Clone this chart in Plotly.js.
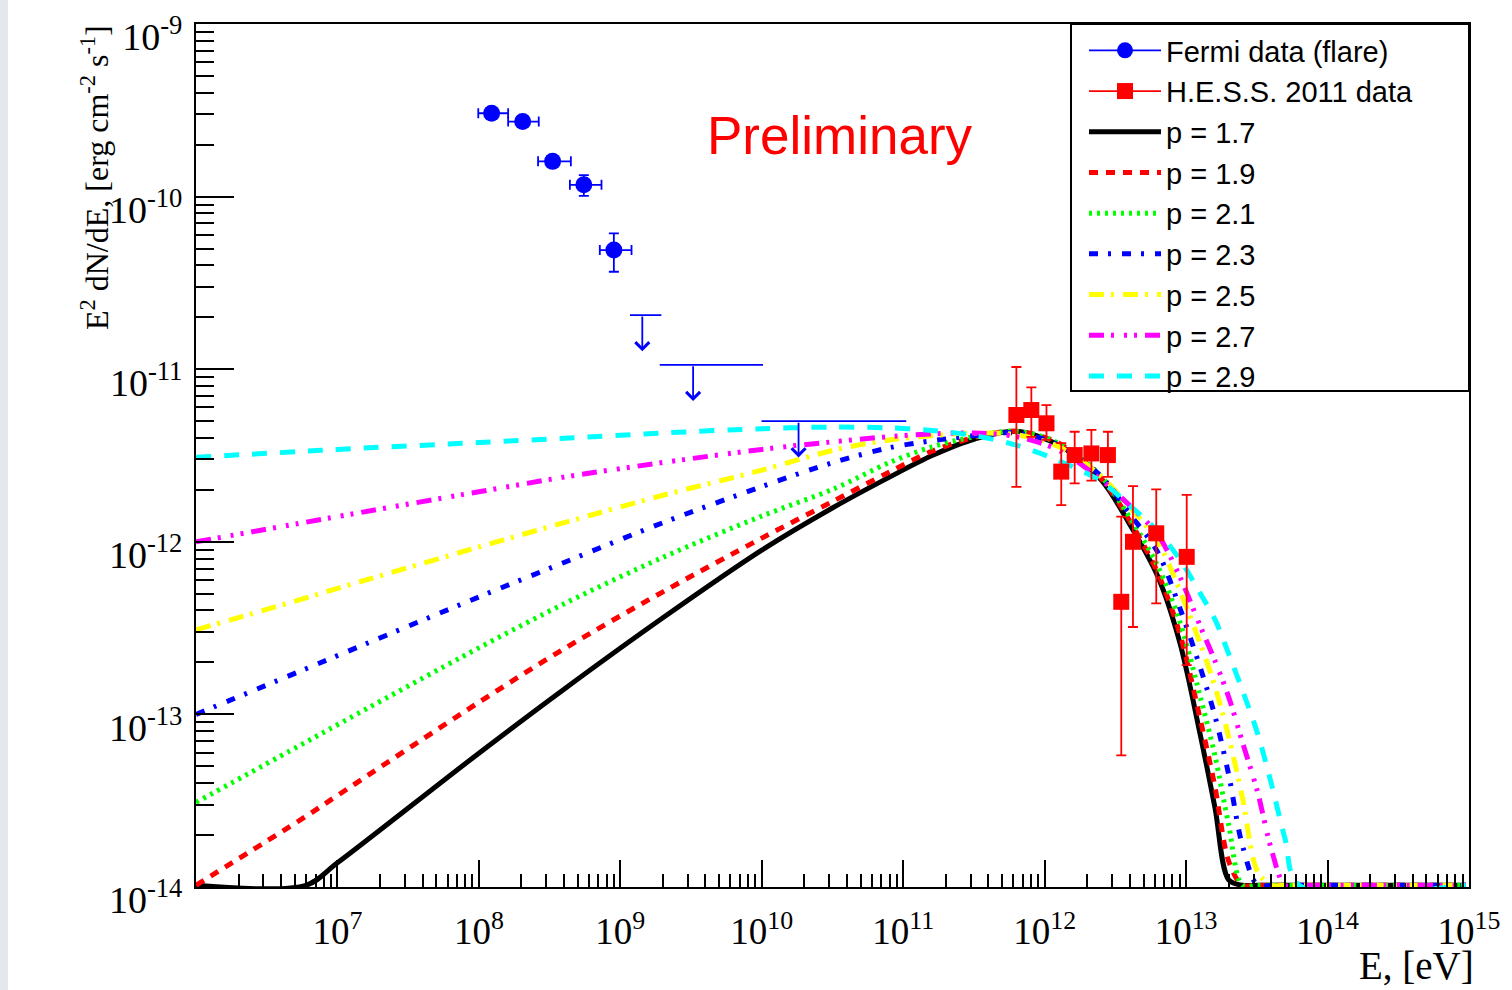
<!DOCTYPE html>
<html>
<head>
<meta charset="utf-8">
<script src="https://cdn.plot.ly/plotly-3.0.1.min.js"></script>
<style>
html,body{margin:0;padding:0;background:#fff;}
#chart{width:1512px;height:990px;}
</style>
</head>
<body>
<div id="chart"></div>
<script>
// ---------------- DATA ----------------
// Model curves: photon energy E [eV] and E^2 dN/dE [erg cm^-2 s^-1]
const modelE = [1e6, 6e6, 1e7, 1e8, 4e8, 2e9, 1e10, 3.2e10, 8e10, 1.6e11, 3.2e11, 6.3e11, 1.26e12,
  2.5e12, 4e12, 6.3e12, 9e12, 1.26e13, 1.6e13, 2e13, 2.5e13, 3.2e13, 4e13, 5e13, 6.3e13, 9.5e14];

const curveP17 = [3.16e-15, 1.0e-14, 1.38e-14, 5.96e-14, 1.40e-13, 3.63e-13, 8.95e-13, 1.58e-12, 2.37e-12, 3.16e-12, 3.94e-12, 4.37e-12, 3.63e-12,
  2.29e-12, 1.26e-12, 6.31e-13, 2.63e-13, 7.59e-14, 2.88e-14, 1.10e-14, 1e-15, 1e-15, 1e-15, 1e-15, 1e-15, 1e-15];
const curveP19 = [9.55e-15, 2.57e-14, 3.39e-14, 1.175e-13, 2.40e-13, 5.13e-13, 1.05e-12, 1.72e-12, 2.54e-12, 3.35e-12, 4.03e-12, 4.37e-12, 3.72e-12,
  2.34e-12, 1.32e-12, 6.61e-13, 2.95e-13, 9.33e-14, 3.80e-14, 1.41e-14, 5.0e-15, 1e-15, 1e-15, 1e-15, 1e-15, 1e-15];
const curveP21 = [3.09e-14, 6.92e-14, 8.71e-14, 2.43e-13, 4.37e-13, 8.13e-13, 1.41e-12, 2.02e-12, 2.88e-12, 3.55e-12, 4.07e-12, 4.37e-12, 3.72e-12,
  2.40e-12, 1.38e-12, 7.24e-13, 3.47e-13, 1.26e-13, 5.75e-14, 2.29e-14, 8.9e-15, 1e-15, 1e-15, 1e-15, 1e-15, 1e-15];
const curveP23 = [1.0e-13, 1.84e-13, 2.19e-13, 4.79e-13, 7.59e-13, 1.29e-12, 2.09e-12, 2.88e-12, 3.51e-12, 3.85e-12, 4.12e-12, 4.27e-12, 3.63e-12,
  2.40e-12, 1.45e-12, 8.71e-13, 4.17e-13, 1.86e-13, 9.77e-14, 4.47e-14, 1.74e-14, 6.3e-15, 1e-15, 1e-15, 1e-15, 1e-15];
const curveP25 = [3.09e-13, 4.73e-13, 5.37e-13, 9.33e-13, 1.29e-12, 1.86e-12, 2.60e-12, 3.39e-12, 3.89e-12, 4.12e-12, 4.27e-12, 4.17e-12, 3.55e-12,
  2.40e-12, 1.585e-12, 1.0e-12, 5.25e-13, 2.57e-13, 1.45e-13, 7.41e-14, 3.31e-14, 1.23e-14, 4.0e-15, 1e-15, 1e-15, 1e-15];
const curveP27 = [1.0e-12, 1.30e-12, 1.40e-12, 1.95e-12, 2.37e-12, 2.88e-12, 3.43e-12, 3.80e-12, 4.07e-12, 4.22e-12, 4.27e-12, 4.07e-12, 3.39e-12,
  2.29e-12, 1.62e-12, 1.10e-12, 6.31e-13, 3.24e-13, 2.04e-13, 1.26e-13, 6.92e-14, 3.55e-14, 1.66e-14, 5.0e-15, 1e-15, 1e-15];
const curveP29 = [3.09e-12, 3.35e-12, 3.43e-12, 3.76e-12, 3.98e-12, 4.27e-12, 4.52e-12, 4.62e-12, 4.57e-12, 4.42e-12, 4.12e-12, 3.63e-12, 2.95e-12,
  2.24e-12, 1.62e-12, 1.15e-12, 7.94e-13, 5.01e-13, 3.55e-13, 2.24e-13, 1.38e-13, 7.76e-14, 3.98e-14, 1.91e-14, 8.9e-15, 1e-15];

const curveLabels = ['p = 1.7', 'p = 1.9', 'p = 2.1', 'p = 2.3', 'p = 2.5', 'p = 2.7', 'p = 2.9'];
const curveSeries = [curveP17, curveP19, curveP21, curveP23, curveP25, curveP27, curveP29];

// Fermi flare data points
const fermiE    = [1.23e8, 2.04e8, 3.32e8, 5.52e8, 9.0e8];
const fermiELo  = [9.9e7, 1.61e8, 2.62e8, 4.40e8, 7.16e8];
const fermiEHi  = [1.61e8, 2.65e8, 4.47e8, 7.36e8, 1.20e9];
const fermiF    = [3.04e-10, 2.72e-10, 1.60e-10, 1.17e-10, 4.9e-11];
const fermiFErr = [1.5e-11, 1.5e-11, 1.0e-11, 1.6e-11, 1.23e-11];

// Fermi upper limits
const ulE   = [1.43e9, 3.27e9, 1.82e10];
const ulELo = [1.17e9, 1.90e9, 9.95e9];
const ulEHi = [1.95e9, 1.02e10, 1.05e11];
const ulF   = [2.06e-11, 1.06e-11, 5.0e-12];

// H.E.S.S. 2011 data
const hessE  = [6.31e11, 8.05e11, 1.03e12, 1.31e12, 1.63e12, 2.14e12, 2.80e12, 3.48e12, 4.21e12, 6.15e12, 1.01e13];
const hessF  = [5.43e-12, 5.80e-12, 4.86e-12, 2.55e-12, 3.18e-12, 3.25e-12, 3.18e-12, 4.49e-13, 1.00e-12, 1.12e-12, 8.18e-13];
const hessHi = [1.03e-11, 7.85e-12, 6.20e-12, 3.73e-12, 4.34e-12, 4.45e-12, 4.34e-12, 1.40e-12, 2.10e-12, 2.01e-12, 1.87e-12];
const hessLo = [2.08e-12, 4.05e-12, 3.89e-12, 1.63e-12, 2.18e-12, 2.26e-12, 2.38e-12, 5.79e-14, 3.21e-13, 4.40e-13, 1.93e-13];

// Axis ticks
const xTickVals = [1e7, 1e8, 1e9, 1e10, 1e11, 1e12, 1e13, 1e14, 1e15];
const xTickText = ['10<sup>7</sup>', '10<sup>8</sup>', '10<sup>9</sup>', '10<sup>10</sup>', '10<sup>11</sup>',
  '10<sup>12</sup>', '10<sup>13</sup>', '10<sup>14</sup>', '10<sup>15</sup>'];
const yTickVals = [1e-14, 1e-13, 1e-12, 1e-11, 1e-10, 1e-9];
const yTickText = ['10<sup>-14</sup>', '10<sup>-13</sup>', '10<sup>-12</sup>', '10<sup>-11</sup>', '10<sup>-10</sup>', '10<sup>-9</sup>'];
const xDecades = [6, 7, 8, 9, 10, 11, 12, 13, 14];
const yDecades = [-14, -13, -12, -11, -10];

// ---------------- STYLE ----------------
const curveColors = ['#000000', '#ff0000', '#00ff00', '#0000ff', '#ffff00', '#ff00ff', '#00ffff'];
const curveDashes = ['solid', '9px,8px', '3px,5px', '9px,10px,3px,11px', '15px,7px,3px,9px',
  '15px,7px,3px,10px,3px,7px,3px,8px', '15px,13px'];
const FLOOR = Math.pow(10, -13.99); // out-of-range model values are drawn along the frame, as in ROOT

function minorVals(decades) {
  const out = [];
  decades.forEach(d => { for (let m = 2; m <= 9; m++) out.push(m * Math.pow(10, d)); });
  return out;
}

const traces = [];
curveSeries.forEach((vals, i) => {
  traces.push({
    type: 'scatter', mode: 'lines', name: curveLabels[i],
    x: modelE, y: vals.map(v => Math.max(v, FLOOR)),
    line: {color: curveColors[i], width: 5, dash: curveDashes[i], shape: 'spline', smoothing: 0.9},
    legendrank: 10 + i, hoverinfo: 'skip'
  });
});

const BLUE = '#0000ff', RED = '#ff0000';

// Fermi points
traces.push({
  type: 'scatter', mode: 'markers', name: 'Fermi data (flare)', showlegend: false,
  x: fermiE, y: fermiF,
  marker: {symbol: 'circle', size: 17, color: BLUE},
  error_x: {type: 'data', symmetric: false, array: fermiEHi.map((h, i) => h - fermiE[i]),
    arrayminus: fermiELo.map((l, i) => fermiE[i] - l), color: BLUE, thickness: 1.8, width: 5},
  error_y: {type: 'data', array: fermiFErr, color: BLUE, thickness: 1.8, width: 5}
});
// Fermi upper limits (horizontal bin bar)
traces.push({
  type: 'scatter', mode: 'markers', showlegend: false,
  x: ulE, y: ulF,
  marker: {size: 1, color: 'rgba(0,0,0,0)'},
  error_x: {type: 'data', symmetric: false, array: ulEHi.map((h, i) => h - ulE[i]),
    arrayminus: ulELo.map((l, i) => ulE[i] - l), color: BLUE, thickness: 1.8, width: 0}
});
// HESS points
traces.push({
  type: 'scatter', mode: 'markers', name: 'H.E.S.S. 2011 data', showlegend: false,
  x: hessE, y: hessF,
  marker: {symbol: 'square', size: 16, color: RED},
  error_y: {type: 'data', symmetric: false, array: hessHi.map((h, i) => h - hessF[i]),
    arrayminus: hessLo.map((l, i) => hessF[i] - l), color: RED, thickness: 1.8, width: 5}
});
// legend entries for data (line + marker, ROOT style)
traces.push({type: 'scatter', mode: 'lines+markers', name: 'Fermi data (flare)', x: [null], y: [null],
  line: {color: BLUE, width: 1.8}, marker: {symbol: 'circle', size: 16, color: BLUE}, legendrank: 1});
traces.push({type: 'scatter', mode: 'lines+markers', name: 'H.E.S.S. 2011 data', x: [null], y: [null],
  line: {color: RED, width: 1.8}, marker: {symbol: 'square', size: 16, color: RED}, legendrank: 2});

// upper-limit arrows
const ARROW_DEC = 0.21;
const ulArrows = ulE.map((e, i) => ({
  xref: 'x', yref: 'y', axref: 'x', ayref: 'y',
  x: Math.log10(e), y: Math.log10(ulF[i]) - ARROW_DEC,
  ax: Math.log10(e), ay: Math.log10(ulF[i]),
  text: '', showarrow: true, arrowhead: 4, arrowsize: 1.5, arrowwidth: 1.8, arrowcolor: BLUE,
  standoff: 0, startstandoff: 0
}));

const W = 1512, H = 990, ML = 196, MR = 43, MT = 24, MB = 103;
const PW = W - ML - MR, PH = H - MT - MB;
const px2x = p => (p - ML) / PW;
const py2y = p => (H - MB - p) / PH;

const layout = {
  width: W, height: H,
  margin: {l: ML, r: MR, t: MT, b: MB, pad: 0},
  paper_bgcolor: '#ffffff', plot_bgcolor: '#ffffff',
  font: {family: 'Liberation Serif, Times New Roman, serif', color: '#000'},
  showlegend: true,
  legend: {
    x: px2x(1084), y: py2y(25), xanchor: 'left', yanchor: 'top',
    bgcolor: 'rgba(0,0,0,0)', borderwidth: 0, itemwidth: 72, tracegroupgap: 0,
    font: {family: 'Liberation Sans, Arial, sans-serif', size: 29, color: '#000'}
  },
  xaxis: {
    type: 'log', range: [6, 15], tickmode: 'array', tickvals: xTickVals, ticktext: xTickText,
    ticks: 'inside', ticklen: 27, tickwidth: 2, tickcolor: '#000',
    showline: true, linecolor: '#000', linewidth: 2, mirror: true,
    showgrid: false, zeroline: false, ticklabelstandoff: 11, ticklabeloverflow: 'allow',
    tickfont: {family: 'Liberation Serif, Times New Roman, serif', size: 37, color: '#000'},
    minor: {tickmode: 'array', tickvals: minorVals(xDecades), ticks: 'inside', ticklen: 13, tickwidth: 2, tickcolor: '#000', showgrid: false}
  },
  yaxis: {
    type: 'log', range: [-14, -9], tickmode: 'array', tickvals: yTickVals, ticktext: yTickText,
    ticks: 'inside', ticklen: 38, tickwidth: 2, tickcolor: '#000',
    showline: true, linecolor: '#000', linewidth: 2, mirror: true,
    showgrid: false, zeroline: false, ticklabelstandoff: 4, ticklabelshift: 13, ticklabeloverflow: 'allow',
    tickfont: {family: 'Liberation Serif, Times New Roman, serif', size: 38, color: '#000'},
    minor: {tickmode: 'array', tickvals: minorVals(yDecades), ticks: 'inside', ticklen: 18, tickwidth: 2, tickcolor: '#000', showgrid: false}
  },
  shapes: [
    {type: 'rect', xref: 'paper', yref: 'paper', x0: px2x(1071), x1: 1, y0: py2y(391), y1: 1,
      fillcolor: '#ffffff', line: {color: '#000', width: 2}, layer: 'above'},
    {type: 'rect', xref: 'paper', yref: 'paper', x0: px2x(0), x1: px2x(8), y0: py2y(H), y1: py2y(0),
      fillcolor: '#e4e8ec', line: {width: 0}, layer: 'below'}
  ],
  annotations: ulArrows.concat([
    {xref: 'paper', yref: 'paper', x: px2x(840), y: py2y(136), xanchor: 'center', yanchor: 'middle',
      text: 'Preliminary', showarrow: false,
      font: {family: 'Liberation Sans, Arial, sans-serif', size: 53, color: RED}},
    {xref: 'paper', yref: 'paper', x: px2x(95), y: py2y(178), xanchor: 'center', yanchor: 'middle',
      text: 'E<sup>2</sup> dN/dE, [erg cm<sup>-2</sup> s<sup>-1</sup>]', textangle: -90, showarrow: false,
      font: {family: 'Liberation Serif, Times New Roman, serif', size: 32, color: '#000'}},
    {xref: 'paper', yref: 'paper', x: px2x(1476), y: py2y(965), xanchor: 'right', yanchor: 'middle',
      text: 'E, [eV]', showarrow: false,
      font: {family: 'Liberation Serif, Times New Roman, serif', size: 39, color: '#000'}}
  ])
};

Plotly.newPlot('chart', traces, layout, {displayModeBar: false, staticPlot: true});
</script>
</body>
</html>
